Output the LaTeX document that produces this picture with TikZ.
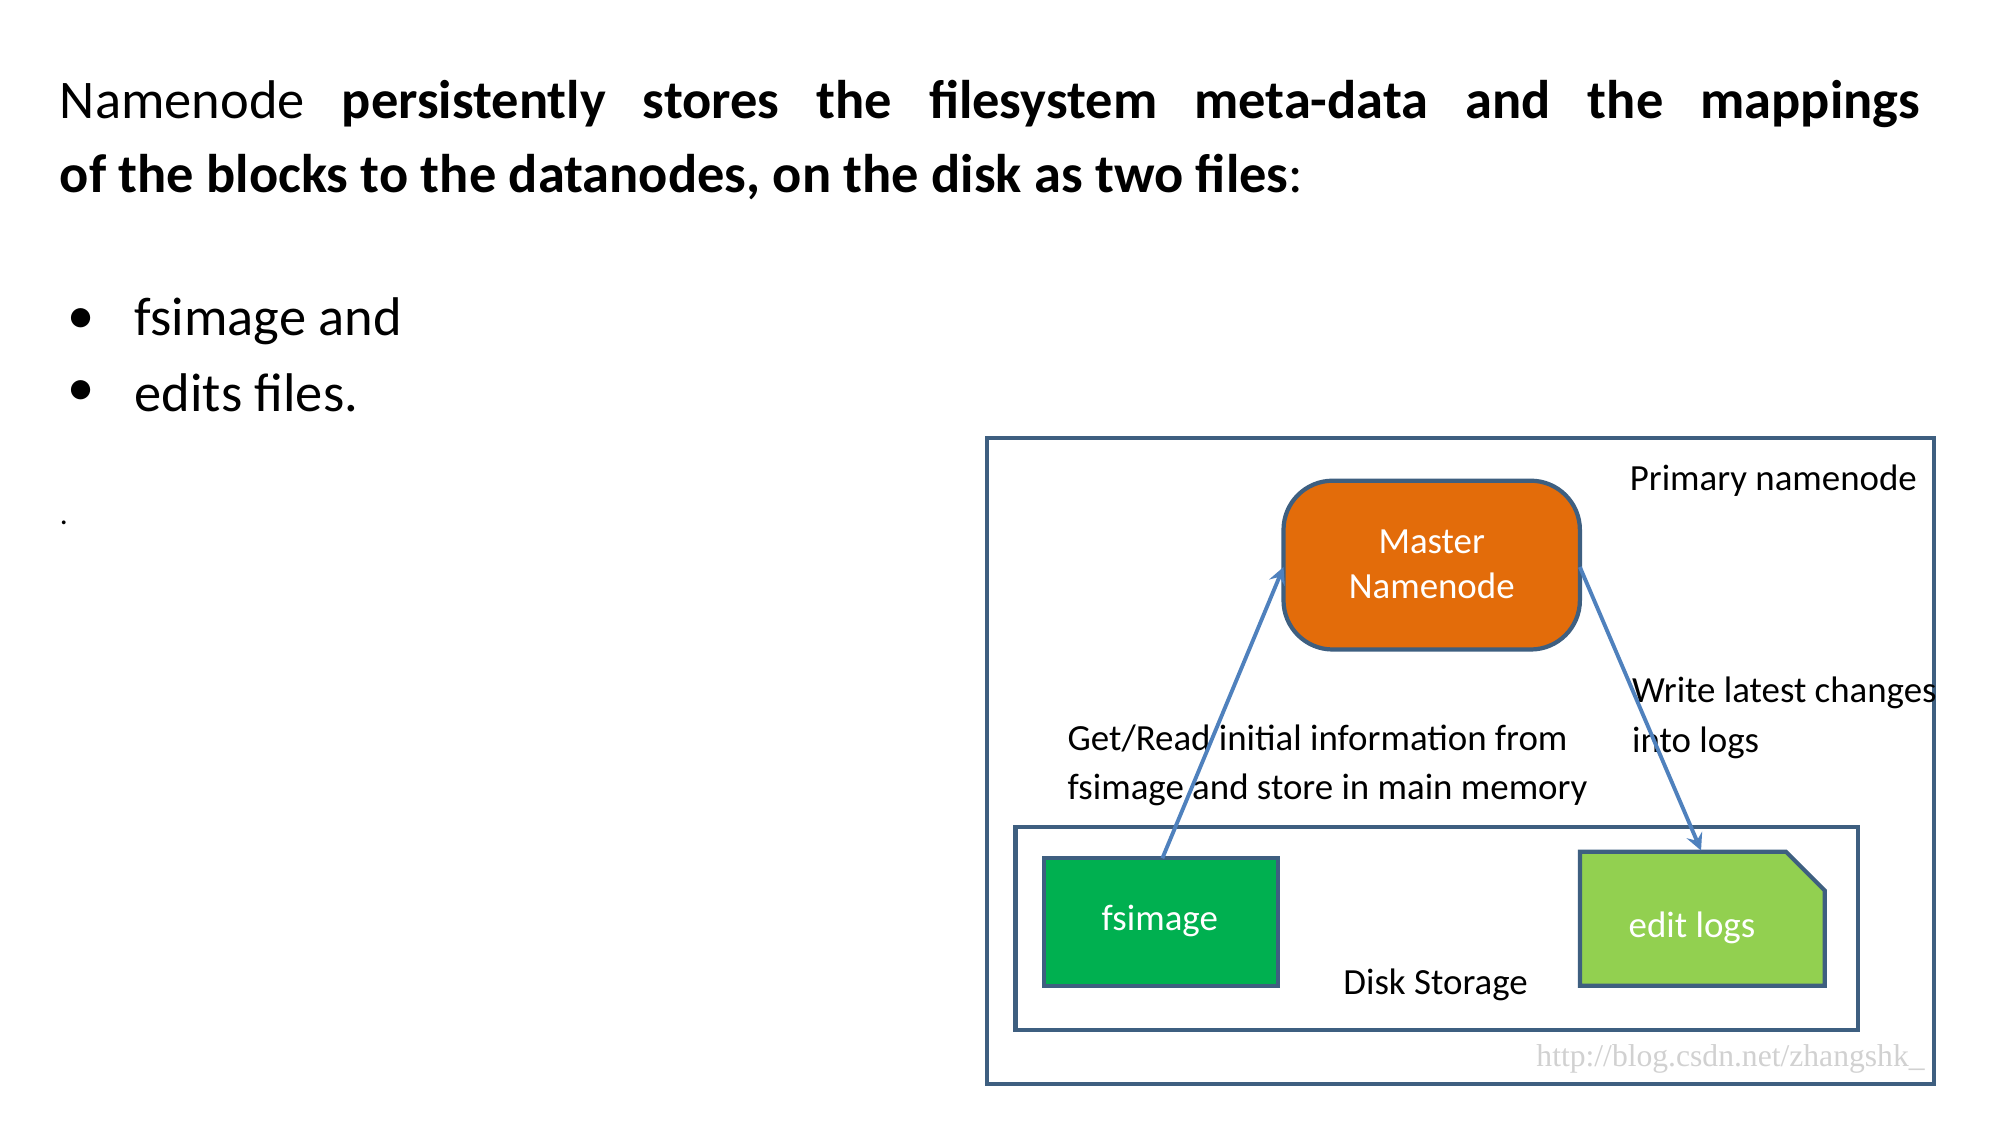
\documentclass[tikz,border=0pt]{standalone}
\usepackage{fontspec}
\setmainfont{Carlito}
\setmonofont{Liberation Serif}
\begin{document}
\begin{tikzpicture}[x=0.012887cm,y=-0.012887cm,
  frame/.style={draw=boxc,line width=1.2pt},
  arr/.style={draw=arrc,line width=1.1pt,->,>=stealth},
  lbl/.style={font=\fontsize{10.5}{14}\selectfont,align=left,inner sep=0pt}]
\definecolor{boxc}{HTML}{3E5F80}
\definecolor{arrc}{HTML}{4F81BD}
\definecolor{orng}{HTML}{E36C0A}
\definecolor{grn}{HTML}{00B050}
\definecolor{lgrn}{HTML}{92D050}
\useasboundingbox (0,0) rectangle (1552,873);
\fill[white] (0,0) rectangle (1552,873);
\node[anchor=north west,inner sep=0pt,text width=18.61cm,align=justify,font=\fontsize{15.5}{21}\selectfont] (title) at (46,62)
 {Namenode \textbf{persistently stores the filesystem meta-data and the mappings\linebreak of the blocks to the datanodes, on the disk as two files}:};
\node[anchor=west,inner sep=0pt,font=\fontsize{15.5}{21}\selectfont] (b1) at (52,249) {•};
\node[anchor=west,inner sep=0pt,font=\fontsize{15.5}{21}\selectfont] (t1) at (104,249) {fsimage and};
\node[anchor=west,inner sep=0pt,font=\fontsize{15.5}{21}\selectfont] (b2) at (52,305) {•};
\node[anchor=west,inner sep=0pt,font=\fontsize{15.5}{21}\selectfont] (t2) at (104,305) {edits files.};
\node[anchor=west,inner sep=0pt,font=\small] (dot) at (46,406) {.};
% diagram
\draw[frame] (766,340) rectangle (1501,841);
\node[anchor=north east,lbl] (prim) at (1488,360) {Primary namenode};
\draw[frame] (788,642) rectangle (1442,799);
\node[lbl] (disk) at (1114,764) {Disk Storage};
\draw[boxc,line width=1.2pt,fill=orng,rounded corners=14pt] (996,373) rectangle (1226,504);
\node[lbl,text=white,align=center] (master) at (1111,438) {Master\\[-1pt]Namenode};
\coordinate (mL) at (996,440); \coordinate (mR) at (1226,440);
\draw[frame,fill=grn] (810,666) rectangle (992,765);
\node[lbl,text=white] (fs) at (900,715) {fsimage};
\coordinate (fT) at (902,666);
\draw[frame,fill=lgrn] (1226,661) -- (1386,661) -- (1416,691) -- (1416,765) -- (1226,765) -- cycle;
\node[lbl,text=white] (el) at (1313,720) {edit logs};
\coordinate (eT) at (1320,660);
\node[anchor=north west,lbl] (get) at (828,562) {Get/Read initial information from\\fsimage and store in main memory};
\node[anchor=north west,lbl] (wr) at (1266,525) {Write latest changes\\into logs};
\draw[arr] (fT) -- (mL);
\draw[arr] (mR) -- (eT);
\node[anchor=east,inner sep=0pt,text=black!18,font=\ttfamily\fontsize{9}{10}\selectfont] (wm) at (1494,822) {http://blog.csdn.net/zhangshk\_};
\end{tikzpicture}
\end{document}
